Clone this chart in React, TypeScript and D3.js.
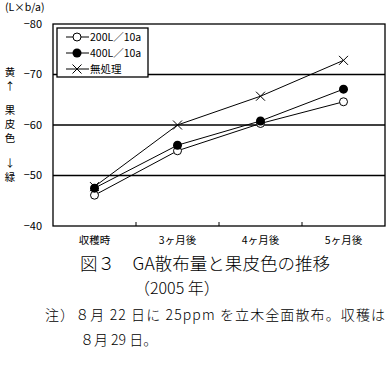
import React, { useEffect, useRef } from 'react';
import * as d3 from 'd3';

const categories = ['収穫時', '3ヶ月後', '4ヶ月後', '5ヶ月後'];
const yTicks = [-80, -70, -60, -50, -40];
const series200 = [-46.1, -54.9, -60.3, -64.6];
const series400 = [-47.5, -56.0, -60.8, -67.1];
const seriesNone = [-47.8, -60.0, -65.7, -72.8];
const seriesNames = ['200L／10a', '400L／10a', '無処理'];
// side label groups: 黄↑ / 果皮色 / ↓緑
const sideGroups = [['黄', '↑'], ['果', '皮', '色'], ['↓', '緑']];

const FONT = "'Noto Sans CJK JP', sans-serif";

const App: React.FC = () => {
  const svgRef = useRef<SVGSVGElement>(null);

  useEffect(() => {
    if (!svgRef.current) return;
    const svg = d3.select(svgRef.current);
    svg.selectAll('*').remove();

    const left = 53, right = 385, top = 24, bottom = 226;

    const x = d3.scaleBand<string>().domain(categories).range([left, right]);
    const y = d3.scaleLinear().domain([-80, -40]).range([top, bottom]);

    // gridlines
    svg.append('g')
      .selectAll('line')
      .data(yTicks.slice(1, -1))
      .join('line')
      .attr('x1', left).attr('x2', right)
      .attr('y1', d => y(d)).attr('y2', d => y(d))
      .attr('stroke', '#000').attr('stroke-width', 1.3);

    // frame
    svg.append('rect')
      .attr('x', left).attr('y', top)
      .attr('width', right - left).attr('height', bottom - top)
      .attr('fill', 'none').attr('stroke', '#000').attr('stroke-width', 1.3);

    // x ticks
    svg.append('g')
      .selectAll('line')
      .data(categories.slice(1))
      .join('line')
      .attr('x1', d => x(d)!).attr('x2', d => x(d)!)
      .attr('y1', bottom - 4).attr('y2', bottom)
      .attr('stroke', '#000');

    // y tick labels
    svg.append('g')
      .selectAll('text')
      .data(yTicks)
      .join('text')
      .attr('x', 42).attr('y', d => y(d))
      .attr('dy', '0.35em')
      .attr('text-anchor', 'end')
      .style('font-family', FONT).style('font-size', '11px')
      .text(d => '−' + Math.abs(d));

    // x labels
    svg.append('g')
      .selectAll('text')
      .data(categories)
      .join('text')
      .attr('x', d => x(d)! + x.bandwidth() / 2)
      .attr('y', 244)
      .attr('text-anchor', 'middle')
      .style('font-family', FONT).style('font-size', '10.5px')
      .text(d => d);

    svg.append('text')
      .attr('x', 5).attr('y', 11)
      .style('font-family', FONT).style('font-size', '10.5px')
      .text('(L×b/a)');

    // side label, one text per group with tspans
    const groupStart = [72, 110, 163];
    sideGroups.forEach((grp, gi) => {
      const t = svg.append('text')
        .attr('text-anchor', 'middle')
        .style('font-family', FONT).style('font-size', '10.5px');
      grp.forEach((ch, i) => {
        t.append('tspan')
          .attr('x', 10)
          .attr('y', groupStart[gi] + i * 14)
          .attr('dy', '0.35em')
          .text(ch);
      });
    });

    const line = d3.line<number>()
      .x((d, i) => x(categories[i])! + x.bandwidth() / 2)
      .y(d => y(d));

    const allSeries = [series200, series400, seriesNone];
    allSeries.forEach(s => {
      svg.append('path').datum(s)
        .attr('d', line)
        .attr('fill', 'none').attr('stroke', '#000').attr('stroke-width', 1);
    });

    const drawMarker = (g: d3.Selection<SVGGElement, unknown, null, undefined>, kind: number, cx: number, cy: number) => {
      if (kind === 0) {
        g.append('circle').attr('cx', cx).attr('cy', cy).attr('r', 4)
          .attr('fill', '#fff').attr('stroke', '#000').attr('stroke-width', 1);
      } else if (kind === 1) {
        g.append('circle').attr('cx', cx).attr('cy', cy).attr('r', 4.5)
          .attr('fill', '#000');
      } else {
        const s = 4.5;
        g.append('path')
          .attr('d', `M${cx - s},${cy - s}L${cx + s},${cy + s}M${cx - s},${cy + s}L${cx + s},${cy - s}`)
          .attr('stroke', '#000').attr('stroke-width', 1);
      }
    };

    const markers = svg.append('g');
    allSeries.forEach((s, k) => {
      s.forEach((v, i) => drawMarker(markers, k, x(categories[i])! + x.bandwidth() / 2, y(v)));
    });

    // legend
    const lg = svg.append('g');
    lg.append('rect')
      .attr('x', 57).attr('y', 28).attr('width', 91).attr('height', 49)
      .attr('fill', '#fff').attr('stroke', '#000').attr('stroke-width', 1.3);
    seriesNames.forEach((name, k) => {
      const ly = 37 + k * 16;
      lg.append('line').attr('x1', 66).attr('x2', 89).attr('y1', ly).attr('y2', ly)
        .attr('stroke', '#000');
      drawMarker(lg, k, 77, ly);
      lg.append('text').attr('x', 90).attr('y', ly).attr('dy', '0.35em')
        .style('font-family', FONT).style('font-size', '10.5px')
        .text(name);
    });

    // caption
    const cap = (txt: string, cx: number, cy: number, size: number, len?: number) => {
      const t = svg.append('text')
        .attr('x', cx).attr('y', cy)
        .style('font-family', FONT).style('font-size', `${size}px`).style('font-weight', '300')
        .text(txt);
      if (len) t.attr('textLength', len).attr('lengthAdjust', 'spacing');
    };
    cap('図３　GA散布量と果皮色の推移', 80, 270, 17.5, 250);
    cap('（2005 年）', 134, 294, 16);
    cap('注）８月 22 日に 25ppm を立木全面散布。収穫は', 45, 320, 14, 340);
    cap('８月 29 日。', 80, 345, 14);
  }, []);

  return (
    <svg ref={svgRef} width={391} height={366}
      style={{ position: 'absolute', left: 0, top: 0, background: '#fff' }} />
  );
};

export default App;
